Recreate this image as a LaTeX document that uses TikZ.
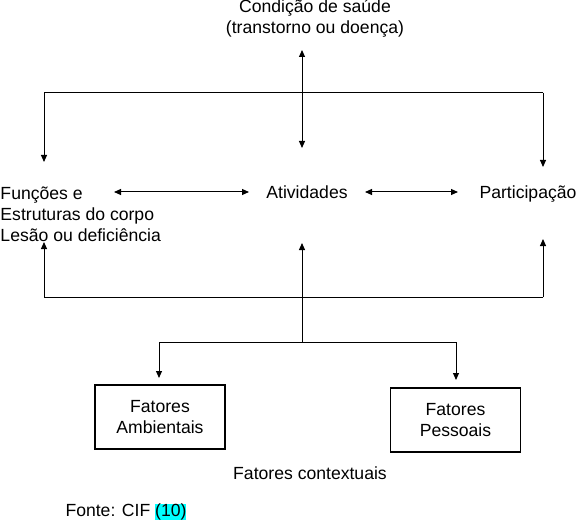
\documentclass[tikz,border=0pt]{standalone}
\usepackage{fontspec}
\setmainfont{Liberation Sans}
\usetikzlibrary{positioning, arrows.meta}
\definecolor{highlight}{RGB}{0,255,255}

\begin{document}
\begin{tikzpicture}[
    x=1pt, y=-1pt,
    line width=1pt,
    txt/.style={font=\fontsize{17.6}{21}\selectfont, inner sep=0pt, align=center},
    factor/.style={txt, draw, line width=1.2pt, minimum width=130pt, minimum height=64pt},
    arrow/.style={-{Triangle[length=7pt,width=6pt]}},
    twoway/.style={{Triangle[length=7pt,width=6pt]}-{Triangle[length=7pt,width=6pt]}},
]
\useasboundingbox (0,0) rectangle (585,529);

\node[txt]                      (cond) at (315,18)  {Condição de saúde\\(transtorno ou doença)};
\node[txt, align=left, anchor=west] (func) at (0,214) {Funções e\\Estruturas do corpo\\Lesão ou deficiência};
\node[txt, anchor=base]         (ativ) at (307,198) {Atividades};
\node[txt, anchor=base]         (part) at (528,198) {Participação};
\node[factor]                   (amb)  at (160,417) {Fatores\\Ambientais};
\node[factor]                   (pess) at (455.5,420) {Fatores\\Pessoais};
\node[txt]                      (ctx)  at (310,473) {Fatores contextuais};
\node[txt, anchor=west]         (src)  at (65,512)  {Fonte: CIF {\setlength{\fboxsep}{0pt}\colorbox{highlight}{(10)}}};

\coordinate (topL) at (44,93);   \coordinate (topR) at (543,93);
\coordinate (botL) at (44,297);  \coordinate (botR) at (543,297);
\coordinate (split) at (302,342);
\coordinate (splitL) at (159,342); \coordinate (splitR) at (456,342);

\coordinate (condIn)  at (302,50);  \coordinate (ativTop) at (302,148);
\coordinate (funcTop) at (44,162);  \coordinate (partTop) at (543,167);
\coordinate (funcBot) at (44,242);  \coordinate (ativBot) at (302,243);
\coordinate (partBot) at (543,239);
\coordinate (ambTop)  at (159,378); \coordinate (pessTop) at (456,380);
\coordinate (fa1) at (114,192); \coordinate (fa2) at (249,192);
\coordinate (ap1) at (365,192); \coordinate (ap2) at (458,192);

\draw[arrow] (topR) -- (topL) -- (funcTop);
\draw[arrow] (topR) -- (partTop);
\draw[arrow] (botR) -- (botL) -- (funcBot);
\draw[arrow] (botR) -- (partBot);
\draw[arrow] (split) -- (ativBot);
\draw[arrow] (splitR) -- (splitL) -- (ambTop);
\draw[arrow] (splitR) -- (pessTop);

\foreach \a/\b in {condIn/ativTop, fa1/fa2, ap1/ap2}
    \draw[twoway] (\a) -- (\b);
\end{tikzpicture}
\end{document}
